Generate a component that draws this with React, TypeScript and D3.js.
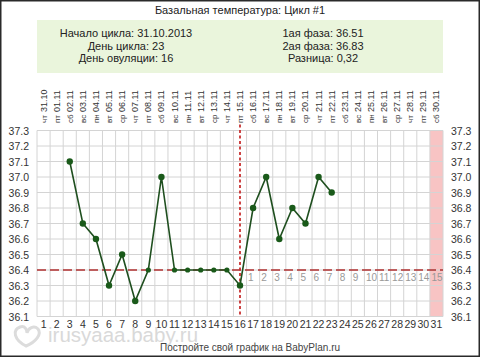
import React from "react";
import * as d3 from "d3";

const days: number[] = d3.range(1, 32);
const dates: string[] = [
  "31.10", "01.11", "02.11", "03.11", "04.11", "05.11", "06.11", "07.11", "08.11", "09.11",
  "10.11", "11.11", "12.11", "13.11", "14.11", "15.11", "16.11", "17.11", "18.11", "19.11",
  "20.11", "21.11", "22.11", "23.11", "24.11", "25.11", "26.11", "27.11", "28.11", "29.11", "30.11",
];
const weekdays: string[] = ["чт", "пт", "сб", "вс", "пн", "вт", "ср"];
const tempDays: number[] = [3, 4, 5, 6, 7, 8, 9, 10, 11, 12, 13, 14, 15, 16, 17, 18, 19, 20, 21, 22, 23];
const temps: number[] = [37.1, 36.7, 36.6, 36.3, 36.5, 36.2, 36.4, 37.0, 36.4, 36.4, 36.4, 36.4, 36.4, 36.3, 36.8, 37.0, 36.6, 36.8, 36.7, 37.0, 36.9];
const yTicks: number[] = [36.1, 36.2, 36.3, 36.4, 36.5, 36.6, 36.7, 36.8, 36.9, 37.0, 37.1, 37.2, 37.3];
const coverline = 36.4;
const ovulationDay = 16;
const periodDays: number[] = [31];
const infoLeft: string[] = ["Начало цикла: 31.10.2013", "День цикла: 23", "День овуляции: 16"];
const infoRight: string[] = ["1ая фаза: 36.51", "2ая фаза: 36.83", "Разница: 0,32"];
const title = "Базальная температура: Цикл #1";

const FONT = "'Liberation Sans', Arial, sans-serif";

export default function App() {
  const x = d3.scaleBand<number>().domain(days).range([37, 443]).padding(0);
  const bw = x.bandwidth();
  const cx = (d: number) => (x(d) as number) + bw / 2;
  const y = d3.scaleLinear().domain([36.1, 37.3]).range([316.5, 130.5]);
  const top = y(37.3);
  const bottom = y(36.1);
  const pts = tempDays.map((d, i) => [cx(d), y(temps[i])] as [number, number]);
  const line = d3.line<[number, number]>().x((p) => p[0]).y((p) => p[1]);

  return (
    <svg width={480} height={358} style={{ position: "absolute", left: 0, top: 0, background: "#fff" }} fontFamily={FONT}>
      <rect x={0} y={0} width={480} height={358} fill="#fff" />
      <text x={240} y={14} textAnchor="middle" fontSize={11} fill="#222">{title}</text>
      <rect x={37} y={20} width={406} height={53} fill="#eaf5dc" />
      {infoLeft.map((t, i) => (
        <text key={"l" + i} x={126} y={37 + i * 12.5} textAnchor="middle" fontSize={11} fill="#222">{t}</text>
      ))}
      {infoRight.map((t, i) => (
        <text key={"r" + i} x={323} y={37 + i * 12.5} textAnchor="middle" fontSize={11} fill="#222">{t}</text>
      ))}
      {days.map((d, i) => (
        <g key={"dt" + d}>
          <text transform={`translate(${cx(d) + 3},112) rotate(-90)`} fontSize={9} fill="#333">{dates[i]}</text>
          <text transform={`translate(${cx(d) + 3},123) rotate(-90)`} fontSize={8} fill="#333">{weekdays[i % 7]}</text>
        </g>
      ))}
      {periodDays.map((d) => (
        <rect key={"p" + d} x={x(d)} y={top} width={bw} height={bottom - top} fill="#f8c4c4" />
      ))}
      {yTicks.map((t) => (
        <line key={"h" + t} x1={37} x2={443} y1={y(t)} y2={y(t)} stroke="#d4d4d4" strokeWidth={1} />
      ))}
      {d3.range(0, 32).map((i) => (
        <line key={"v" + i} x1={37 + i * bw} x2={37 + i * bw} y1={top} y2={bottom} stroke="#d4d4d4" strokeWidth={1} />
      ))}
      {yTicks.map((t) => (
        <g key={"yl" + t}>
          <text x={29} y={y(t) + 4} textAnchor="end" fontSize={10.5} fill="#333">{t.toFixed(1)}</text>
          <text x={451} y={y(t) + 4} textAnchor="start" fontSize={10.5} fill="#333">{t.toFixed(1)}</text>
        </g>
      ))}
      {days.map((d) => (
        <text key={"b" + d} x={cx(d)} y={328} textAnchor="middle" fontSize={10.5} fill="#333">{d}</text>
      ))}
      {days.filter((d) => d > ovulationDay).map((d) => (
        <text key={"g" + d} x={(x(d) as number) + 1.5} y={281} textAnchor="start" fontSize={10} fill="#999">{d - ovulationDay}</text>
      ))}
      <line x1={37} x2={443} y1={y(coverline)} y2={y(coverline)} stroke="#b03030" strokeWidth={1.6} strokeDasharray="9,4" />
      <line x1={cx(ovulationDay)} x2={cx(ovulationDay)} y1={top - 6} y2={bottom} stroke="#c83030" strokeWidth={1.8} strokeDasharray="3,2.5" />
      <path d={line(pts) || ""} fill="none" stroke="#1f4f1f" strokeWidth={1.6} />
      {pts.map((p, i) => (
        <circle key={"c" + i} cx={p[0]} cy={p[1]} r={temps[i] === coverline ? 2.6 : 3.2} fill="#1a5a1a" />
      ))}
      <g fill="none" stroke="#dcdcdc" strokeWidth={3}>
        <path d="M26,346 C14,340 12,330 20,327 C25,325 27,330 27,333 C28,328 34,325 38,329 C42,334 36,342 26,346 Z" />
      </g>
      <text x={48} y={342} fontSize={20.5} fill="#d9d9d9">irusyaaa.baby.ru</text>
      <text x={160} y={351} fontSize={10} fill="#444">Постройте свой график на BabyPlan.ru</text>
      <rect x={0.75} y={0.75} width={478.5} height={355.5} fill="none" stroke="#2a2a2a" strokeWidth={1.5} />
    </svg>
  );
}
